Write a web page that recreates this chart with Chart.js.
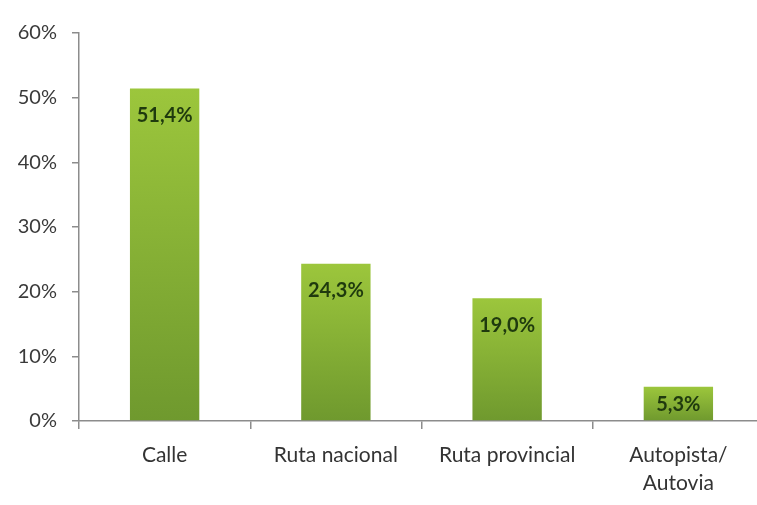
<!DOCTYPE html>
<html>
<head>
<meta charset="utf-8">
<script src="https://cdn.jsdelivr.net/npm/chart.js@4"></script>
<style>
  html, body { margin: 0; padding: 0; background: #fff; overflow: hidden; }
  #wrap { width: 757px; height: 505px; overflow: hidden; }
</style>
</head>
<body>
<div id="wrap"><canvas id="chart" width="764" height="505"></canvas></div>
<script>
// Datos
const categorias = ['Calle', 'Ruta nacional', 'Ruta provincial', ['Autopista/', 'Autovia']];
const valores = [51.4, 24.3, 19.0, 5.3];
const etiquetas = ['51,4%', '24,3%', '19,0%', '5,3%'];
const ticksY = [0, 10, 20, 30, 40, 50, 60];

const fuente = 'Lato, "Open Sans", sans-serif';

// Etiquetas dentro de cada barra, cerca del borde superior
const etiquetasBarras = {
    id: 'etiquetasBarras',
    afterDatasetsDraw(chart) {
        const { ctx } = chart;
        const meta = chart.getDatasetMeta(0);
        ctx.save();
        ctx.font = 'bold 20px ' + fuente;
        ctx.fillStyle = '#1f3a0e';
        ctx.textAlign = 'center';
        ctx.textBaseline = 'middle';
        meta.data.forEach((bar, i) => {
            const alto = bar.base - bar.y;
            const y = alto > 40 ? bar.y + 27 : bar.y + alto / 2 + 1;
            ctx.fillText(etiquetas[i], bar.x, y);
        });
        ctx.restore();
    }
};

// Degradado vertical de cada barra (claro arriba, oscuro abajo)
function degradado(c) {
    const escala = c.chart.scales.y;
    if (!c.chart.chartArea || !escala) return '#86ad34';
    const arriba = escala.getPixelForValue(c.raw);
    const abajo = escala.getPixelForValue(0);
    if (!isFinite(arriba) || !isFinite(abajo)) return '#86ad34';
    const g = c.chart.ctx.createLinearGradient(0, arriba, 0, abajo);
    g.addColorStop(0, '#9cc63c');
    g.addColorStop(1, '#6f992e');
    return g;
}

const ctx = document.getElementById('chart').getContext('2d');
new Chart(ctx, {
    type: 'bar',
    data: {
        labels: categorias,
        datasets: [{
            data: valores,
            backgroundColor: degradado,
            borderWidth: 0,
            barPercentage: 0.405,
            categoryPercentage: 1.0
        }]
    },
    options: {
        responsive: false,
        animation: false,
        layout: { padding: { top: 33, right: 0, bottom: 0, left: 0 } },
        plugins: {
            legend: { display: false },
            tooltip: { enabled: false }
        },
        scales: {
            y: {
                min: 0,
                max: 60,
                afterBuildTicks: (s) => { s.ticks = ticksY.map(v => ({ value: v })); },
                afterFit: (s) => { s.width = 79; },
                border: { color: '#8c8c8c', width: 1.5 },
                grid: { drawOnChartArea: false, tickLength: 7, color: '#8c8c8c', lineWidth: 1.5 },
                ticks: {
                    padding: 15,
                    color: '#3a3a3a',
                    font: { family: fuente, size: 20 },
                    callback: (v) => v + '%'
                }
            },
            x: {
                afterFit: (s) => { s.height = 84; },
                border: { color: '#8c8c8c', width: 1.5 },
                grid: { drawOnChartArea: false, offset: true, tickLength: 8, color: '#8c8c8c', lineWidth: 1.5 },
                ticks: {
                    padding: 12,
                    color: '#333333',
                    maxRotation: 0,
                    font: { family: fuente, size: 21, lineHeight: 1.35 }
                }
            }
        }
    },
    plugins: [etiquetasBarras]
});
</script>
</body>
</html>
